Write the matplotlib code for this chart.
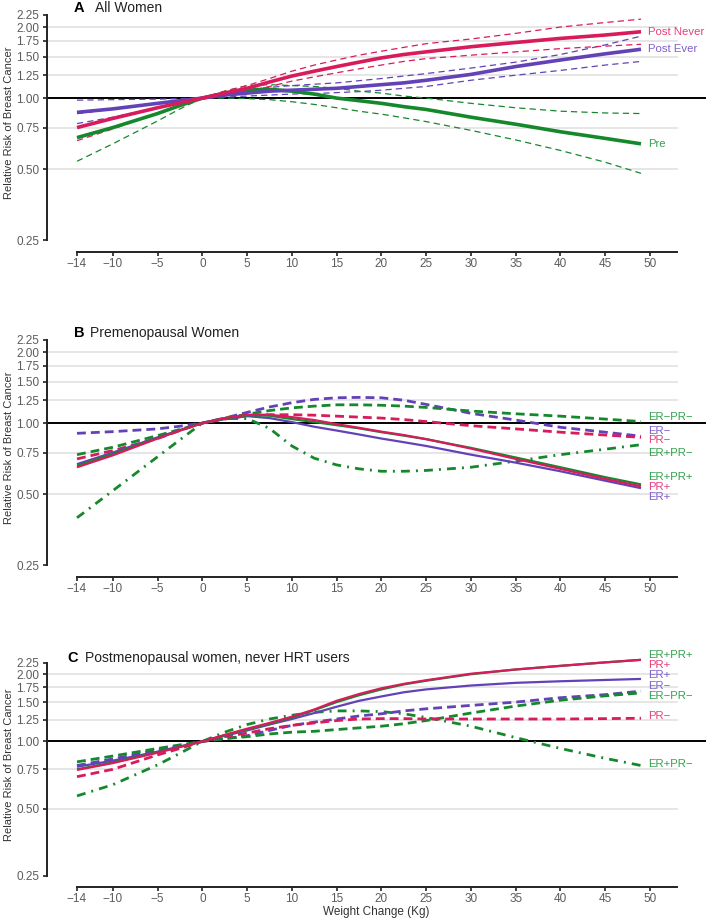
import numpy as np
import matplotlib
matplotlib.use("Agg")
import matplotlib.pyplot as plt

plt.rcParams['font.family'] = ['Liberation Sans', 'DejaVu Sans']

# weight change grid (kg)
weight = [-14, -10, -5, -2.5, 0, 2.5, 5, 7.5, 10, 12.5, 15, 17.5, 20, 22.5, 25, 30, 35, 40, 45, 49]

# panel A - all women
post_never = [0.75, 0.82, 0.91, 0.955, 1.00, 1.05, 1.10, 1.17, 1.24, 1.30, 1.36, 1.42, 1.48, 1.53, 1.57, 1.65, 1.72, 1.79, 1.85, 1.91]
post_never_hi = [0.86, 0.90, 0.95, 0.975, 1.00, 1.07, 1.13, 1.21, 1.30, 1.38, 1.45, 1.52, 1.58, 1.64, 1.70, 1.78, 1.88, 2.00, 2.09, 2.16]
post_never_lo = [0.66, 0.74, 0.86, 0.93, 1.00, 1.03, 1.07, 1.12, 1.18, 1.23, 1.28, 1.33, 1.38, 1.43, 1.47, 1.52, 1.57, 1.62, 1.66, 1.69]
post_ever = [0.87, 0.90, 0.95, 0.975, 1.00, 1.03, 1.05, 1.07, 1.08, 1.09, 1.10, 1.12, 1.14, 1.16, 1.19, 1.26, 1.36, 1.45, 1.54, 1.61]
post_ever_hi = [0.98, 0.985, 0.99, 0.995, 1.00, 1.05, 1.09, 1.11, 1.13, 1.145, 1.16, 1.185, 1.21, 1.24, 1.27, 1.34, 1.42, 1.53, 1.68, 1.83]
post_ever_lo = [0.78, 0.83, 0.91, 0.955, 1.00, 1.01, 1.02, 1.03, 1.04, 1.045, 1.055, 1.065, 1.08, 1.10, 1.12, 1.19, 1.25, 1.31, 1.38, 1.43]
pre = [0.68, 0.75, 0.86, 0.93, 1.00, 1.05, 1.08, 1.09, 1.07, 1.04, 1.00, 0.975, 0.95, 0.92, 0.895, 0.83, 0.775, 0.72, 0.675, 0.64]
pre_hi = [0.86, 0.90, 0.95, 0.975, 1.00, 1.07, 1.13, 1.14, 1.13, 1.12, 1.10, 1.07, 1.05, 1.02, 1.00, 0.95, 0.91, 0.88, 0.865, 0.86]
pre_lo = [0.54, 0.64, 0.80, 0.90, 1.00, 1.00, 0.995, 0.985, 0.965, 0.94, 0.91, 0.88, 0.855, 0.825, 0.795, 0.73, 0.665, 0.60, 0.535, 0.48]

# panel B - premenopausal women
b_er_pos = [0.67, 0.75, 0.87, 0.935, 1.00, 1.04, 1.07, 1.05, 1.01, 0.965, 0.93, 0.895, 0.86, 0.83, 0.80, 0.735, 0.68, 0.625, 0.57, 0.53]
b_pr_pos = [0.65, 0.73, 0.86, 0.93, 1.00, 1.05, 1.085, 1.085, 1.06, 1.03, 0.99, 0.955, 0.92, 0.89, 0.855, 0.78, 0.705, 0.64, 0.58, 0.54]
b_erpr_pos = [0.66, 0.74, 0.865, 0.93, 1.00, 1.045, 1.08, 1.075, 1.04, 1.01, 0.98, 0.95, 0.915, 0.885, 0.855, 0.785, 0.715, 0.65, 0.59, 0.55]
b_er_neg = [0.905, 0.92, 0.945, 0.97, 1.00, 1.05, 1.11, 1.17, 1.22, 1.26, 1.28, 1.285, 1.28, 1.25, 1.20, 1.10, 1.03, 0.96, 0.915, 0.88]
b_erpr_neg = [0.735, 0.79, 0.885, 0.94, 1.00, 1.05, 1.09, 1.13, 1.16, 1.18, 1.195, 1.195, 1.19, 1.18, 1.165, 1.125, 1.095, 1.07, 1.04, 1.015]
b_pr_neg = [0.705, 0.765, 0.86, 0.93, 1.00, 1.04, 1.075, 1.085, 1.085, 1.08, 1.07, 1.06, 1.05, 1.035, 1.015, 0.975, 0.945, 0.915, 0.89, 0.87]
b_erpos_prneg = [0.397, 0.517, 0.72, 0.85, 1.00, 1.045, 1.045, 0.95, 0.80, 0.71, 0.665, 0.64, 0.625, 0.625, 0.63, 0.65, 0.69, 0.735, 0.775, 0.81]

# panel C - postmenopausal never HRT users
c_erpr_pos = [0.75, 0.805, 0.895, 0.945, 1.00, 1.065, 1.13, 1.20, 1.28, 1.38, 1.50, 1.61, 1.71, 1.80, 1.87, 2.00, 2.10, 2.18, 2.26, 2.32]
c_pr_pos = [0.745, 0.80, 0.89, 0.945, 1.00, 1.07, 1.14, 1.21, 1.29, 1.39, 1.52, 1.63, 1.73, 1.81, 1.88, 2.01, 2.10, 2.18, 2.26, 2.32]
c_er_pos = [0.77, 0.82, 0.90, 0.95, 1.00, 1.06, 1.12, 1.19, 1.26, 1.34, 1.43, 1.52, 1.59, 1.66, 1.71, 1.78, 1.83, 1.86, 1.885, 1.905]
c_er_neg = [0.78, 0.835, 0.915, 0.955, 1.00, 1.03, 1.06, 1.12, 1.18, 1.22, 1.26, 1.30, 1.33, 1.37, 1.40, 1.45, 1.50, 1.57, 1.62, 1.68]
c_erpr_neg = [0.81, 0.86, 0.93, 0.965, 1.00, 1.03, 1.05, 1.08, 1.10, 1.11, 1.13, 1.15, 1.17, 1.20, 1.24, 1.34, 1.44, 1.53, 1.60, 1.65]
c_pr_neg = [0.695, 0.75, 0.87, 0.93, 1.00, 1.05, 1.09, 1.14, 1.18, 1.21, 1.24, 1.26, 1.265, 1.265, 1.26, 1.26, 1.26, 1.26, 1.265, 1.27]
c_erpos_prneg = [0.57, 0.64, 0.785, 0.885, 1.00, 1.10, 1.19, 1.26, 1.31, 1.35, 1.37, 1.37, 1.36, 1.33, 1.28, 1.17, 1.04, 0.93, 0.84, 0.78]

yticks = [0.25, 0.50, 0.75, 1.00, 1.25, 1.50, 1.75, 2.00, 2.25]
xticks = [-14, -10, -5, 0, 5, 10, 15, 20, 25, 30, 35, 40, 45, 50]

PINK = '#d81b5c'
PURPLE = '#6342b8'
GREEN = '#16882c'
# right-hand labels print a bit lighter
LABEL_COL = {PINK: '#e4407a', PURPLE: '#7d5fcc', GREEN: '#35a150'}

DASH_A = (5, 3.3)
DASH_BC = (3.2, 1.8)
DASHDOT = (3.2, 2.2, 0.7, 2.2)

fig = plt.figure(figsize=(7.08, 9.22), dpi=100)
W, H = 708.0, 922.0


def make_axes(top_px, bottom_px):
    ax = fig.add_axes([47 / W, 1 - bottom_px / H, (706 - 47) / W, (bottom_px - top_px) / H])
    ax.set_yscale('log')
    ax.set_ylim(0.2228, 2.316)
    ax.set_xlim(-17.35, 56.26)
    ax.yaxis.set_minor_locator(matplotlib.ticker.NullLocator())
    ax.set_yticks(yticks)
    ax.set_yticklabels(['%.2f' % t for t in yticks])
    ax.set_xticks(xticks)
    ax.set_xticklabels([str(t).replace('-', '\u2212') for t in xticks])
    for s in ['top', 'right']:
        ax.spines[s].set_visible(False)
    ax.spines['left'].set_bounds(0.25, 2.25)
    ax.spines['bottom'].set_bounds(-14, 53)
    for s in ['left', 'bottom']:
        ax.spines[s].set_color('#222222')
        ax.spines[s].set_linewidth(1.4)
    ax.tick_params(axis='both', length=3, width=1.2, color='#222222',
                   labelcolor='#5c5c5c', labelsize=8.5)
    ax.tick_params(axis='x', pad=1.5)
    ax.tick_params(axis='y', pad=2.5)
    for t in [0.5, 0.75, 1.25, 1.5, 1.75, 2.0]:
        ax.plot([-17.35, 53], [t, t], color='#e2e2e2', lw=1.2, zorder=0)
    ax.axhline(1.0, color='black', lw=1.4, zorder=1)
    ax.set_ylabel('Relative Risk of Breast Cancer', fontsize=8, color='#333333')
    ax.yaxis.set_label_coords(-0.05, 0.54)
    ax.patch.set_alpha(0)
    return ax


def title(y_px, letter, text, x_letter, x_text):
    fig.text(x_letter / W, 1 - y_px / H, letter, fontsize=10.5, fontweight='bold', va='center', ha='left')
    fig.text(x_text / W, 1 - y_px / H, text, fontsize=10, va='center', ha='left', color='#222222')


def line(ax, ys, color, style, lw):
    if style == 'solid':
        ax.plot(weight, ys, color=color, lw=lw, solid_capstyle='butt', solid_joinstyle='round',
                clip_on=False, zorder=3)
    elif style == 'dash':
        ax.plot(weight, ys, color=color, lw=lw, dashes=DASH_BC if lw > 1.2 else DASH_A, clip_on=False, zorder=2)
    else:
        ax.plot(weight, ys, color=color, lw=lw, dashes=DASHDOT, clip_on=False, zorder=2)


def label(ax, y, text, color):
    ax.text(49.8, y, text, color=LABEL_COL[color], fontsize=8.2, ha='left', va='center')


# ---- panel A
axA = make_axes(12, 252)
title(8, 'A', 'All Women', 74, 95)
for lo, hi, c in [(pre_lo, pre_hi, GREEN), (post_ever_lo, post_ever_hi, PURPLE), (post_never_lo, post_never_hi, PINK)]:
    line(axA, lo, c, 'dash', 0.9)
    line(axA, hi, c, 'dash', 0.9)
line(axA, pre, GREEN, 'solid', 2.6)
line(axA, post_ever, PURPLE, 'solid', 2.6)
line(axA, post_never, PINK, 'solid', 2.6)
label(axA, 1.905, 'Post Never', PINK)
label(axA, 1.61, 'Post Ever', PURPLE)
label(axA, 0.638, 'Pre', GREEN)

# ---- panel B
axB = make_axes(337, 577)
title(333, 'B', 'Premenopausal Women', 74, 90)
line(axB, b_erpos_prneg, GREEN, 'dashdot', 2.0)
line(axB, b_er_neg, PURPLE, 'dash', 2.0)
line(axB, b_erpr_neg, GREEN, 'dash', 2.0)
line(axB, b_pr_neg, PINK, 'dash', 2.0)
line(axB, b_er_pos, PURPLE, 'solid', 1.6)
line(axB, b_erpr_pos, GREEN, 'solid', 1.6)
line(axB, b_pr_pos, PINK, 'solid', 1.6)
for y, t, c in [(1.057, 'ER\u2212PR\u2212', GREEN), (0.922, 'ER\u2212', PURPLE), (0.844, 'PR\u2212', PINK),
                (0.75, 'ER+PR\u2212', GREEN), (0.593, 'ER+PR+', GREEN), (0.538, 'PR+', PINK),
                (0.487, 'ER+', PURPLE)]:
    label(axB, y, t, c)

# ---- panel C
axC = make_axes(660, 887)
title(658, 'C', 'Postmenopausal women, never HRT users', 67, 85)
line(axC, c_erpos_prneg, GREEN, 'dashdot', 2.0)
line(axC, c_er_neg, PURPLE, 'dash', 2.0)
line(axC, c_erpr_neg, GREEN, 'dash', 2.0)
line(axC, c_pr_neg, PINK, 'dash', 2.0)
line(axC, c_er_pos, PURPLE, 'solid', 1.6)
line(axC, c_erpr_pos, GREEN, 'solid', 1.6)
line(axC, c_pr_pos, PINK, 'solid', 1.6)
for y, t, c in [(2.44, 'ER+PR+', GREEN), (2.2, 'PR+', PINK), (1.98, 'ER+', PURPLE),
                (1.765, 'ER\u2212', PURPLE), (1.59, 'ER\u2212PR\u2212', GREEN), (1.306, 'PR\u2212', PINK),
                (0.793, 'ER+PR\u2212', GREEN)]:
    label(axC, y, t, c)
axC.set_xlabel('Weight Change (Kg)', fontsize=8.5, color='#333333', labelpad=1)
axC.xaxis.set_label_coords((376 - 47) / (706 - 47), -0.085)

fig.savefig('out.png', dpi=100)
